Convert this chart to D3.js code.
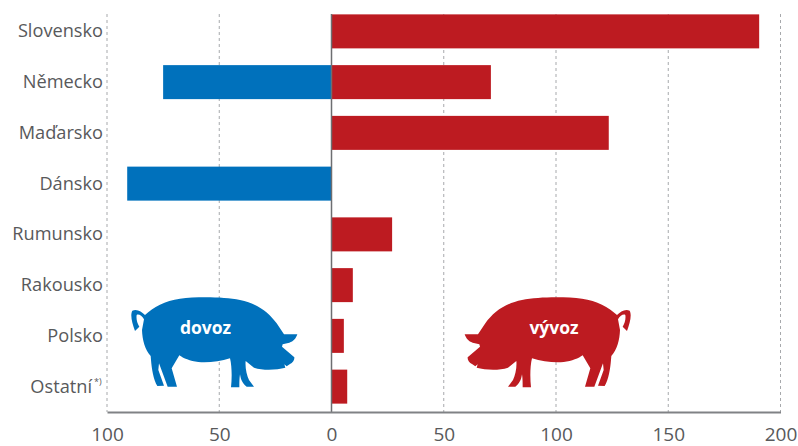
<!DOCTYPE html>
<html><head><meta charset="utf-8">
<script src="https://cdn.jsdelivr.net/npm/d3@7"></script>
<style>html,body{margin:0;padding:0;background:#fff}svg{display:block}text{font-family:"Open Sans",sans-serif}</style>
</head><body><svg id="c" width="798" height="446"></svg>
<script>
const categories=["Slovensko","Německo","Maďarsko","Dánsko","Rumunsko","Rakousko","Polsko","Ostatní"];
const dovoz=[0,75,0,91,0,0,0,0];
const vyvoz=[190.5,71,123.5,0,27,9.5,5.5,7];
const tickValues=[-100,-50,0,50,100,150,200];
const BLUE="#0071bc",RED="#bd1b21",TXT="#58595b";
const svg=d3.select("#c");
const x=d3.scaleLinear().domain([-100,200]).range([107,780.5]);
const y=d3.scaleBand().domain(categories).range([6,412]).paddingInner(0.33).paddingOuter(0.165);
const plotTop=14,base=412;
// grid
svg.append("g").selectAll("line").data(tickValues.filter(d=>d!==0)).join("line")
 .attr("x1",d=>x(d)).attr("x2",d=>x(d)).attr("y1",plotTop).attr("y2",base)
 .attr("stroke","#a7a9ac").attr("stroke-dasharray","3 3");
// bars
svg.append("g").selectAll("rect").data(vyvoz).join("rect")
 .attr("x",x(0)).attr("y",(d,i)=>y(categories[i])).attr("width",d=>x(d)-x(0)).attr("height",y.bandwidth()).attr("fill",RED);
svg.append("g").selectAll("rect").data(dovoz).join("rect")
 .attr("x",d=>x(-d)).attr("y",(d,i)=>y(categories[i])).attr("width",d=>x(0)-x(-d)).attr("height",y.bandwidth()).attr("fill",BLUE);
// axes
svg.append("line").attr("x1",x(0)).attr("x2",x(0)).attr("y1",plotTop).attr("y2",base).attr("stroke","#6d6e71").attr("stroke-width",1.5);
const ax=d3.axisBottom(x).tickValues(tickValues).tickFormat(d=>Math.abs(d)).tickSize(0).tickPadding(16);
const gx=svg.append("g").attr("transform",`translate(0,${base})`).call(ax);
gx.select(".domain").attr("stroke","#808285").attr("stroke-width",2);
gx.selectAll("text").attr("font-size",19).attr("fill",TXT).style("font-family",'"Open Sans",sans-serif');
// category labels
const labels=svg.append("g").selectAll("text").data(categories).join("text")
 .attr("x",103).attr("y",d=>y(d)+y.bandwidth()/2-0.4).attr("dy","0.35em").attr("text-anchor","end")
 .attr("font-size",18.2).attr("fill",TXT);
labels.text(d=>d);
labels.filter(d=>d==="Ostatní").attr("x",92);
svg.append("text").attr("x",94).attr("y",y("Ostatní")+y.bandwidth()/2-2).attr("font-size",9).attr("fill",TXT).text("*)");
// pig silhouette (drawn in 3x local units)
const pig="M105,153C96,130 90,105 97,92C110,85 125,95 135,105C160,82 195,62 240,56C290,50 370,50 420,60C470,70 505,95 530,130L552,163L592,163C588,175 580,185 568,188L548,193L546,200L583,232C584,240 578,248 570,252L560,259L553,253L556,263C530,270 490,272 462,263L437,243C435,262 440,285 447,300L462,320L440,320C428,312 422,298 420,283C418,295 418,310 418,322L393,322C396,295 396,260 390,235C360,245 325,248 295,246C270,243 250,235 238,226L215,265L231,320L203,320L190,285L177,250L175,270L192,317L172,318C160,300 155,265 153,240L152,228C135,210 127,180 126,150L132,118C126,108 116,101 110,105C108,118 112,130 118,140Z";
const k=1/3;
function drawPig(tx,mirror,color,label,lx){
 svg.append("path").attr("d",pig).attr("fill",color)
  .attr("transform",mirror?`translate(${tx},280) scale(${-k},${k})`:`translate(${tx},280) scale(${k})`);
 svg.append("text").attr("x",lx).attr("y",334).attr("text-anchor","middle").attr("font-size",17.5).attr("font-weight",700).attr("fill","#fff").text(label);
}
drawPig(100,false,BLUE,"dovoz",205.5);
drawPig(662,true,RED,"vývoz",554);
</script></body></html>
